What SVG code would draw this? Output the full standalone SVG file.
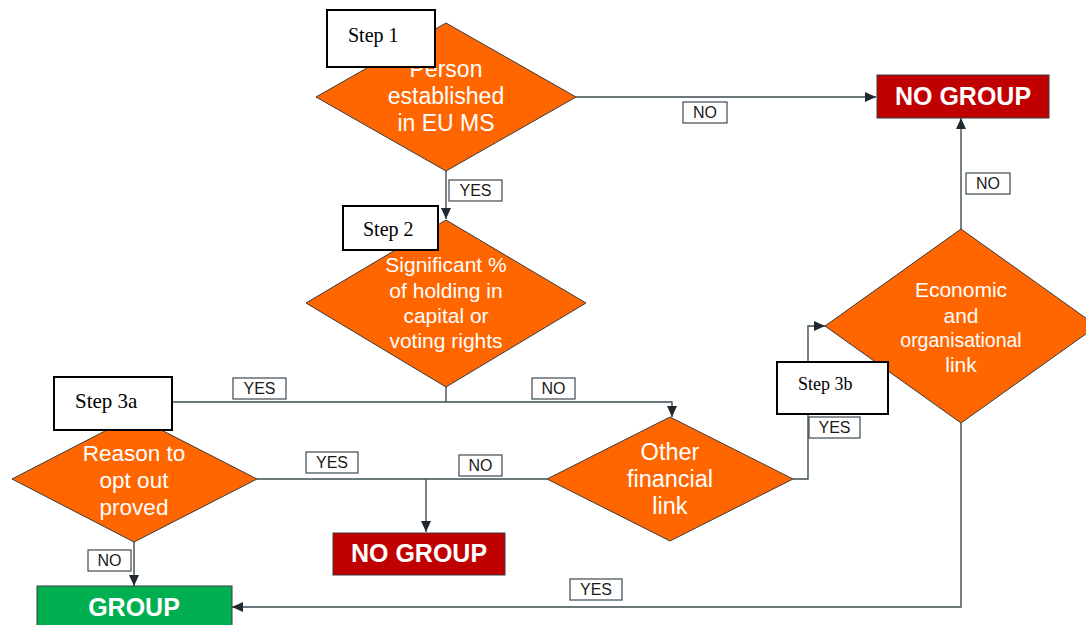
<svg xmlns="http://www.w3.org/2000/svg" width="1086" height="625" viewBox="0 0 1086 625">
<defs>
<marker id="arr" markerUnits="userSpaceOnUse" markerWidth="11" markerHeight="10" refX="11" refY="5" orient="auto">
<path d="M0,0 L11,5 L0,10 Z" fill="#1f2b30"/>
</marker>
<style>
.dia{fill:#FF6600;stroke:#3a3a3a;stroke-width:1}
.dt{font-family:"Liberation Sans",Arial,sans-serif;font-size:21px;fill:#ffffff;text-anchor:middle}
.step{fill:#ffffff;stroke:#000000;stroke-width:2}
.st{font-family:"Liberation Serif","Times New Roman",serif;font-size:20px;fill:#000000}
.lbl{fill:#ffffff;stroke:#3e4a50;stroke-width:1.2}
.lt{font-family:"Liberation Sans",Arial,sans-serif;font-size:16px;fill:#1a1a1a;text-anchor:middle}
.res{font-family:"Liberation Sans",Arial,sans-serif;font-size:25px;font-weight:bold;fill:#ffffff;text-anchor:middle}
.con{fill:none;stroke:#3d4b52;stroke-width:1.4}
</style>
</defs>
<rect width="1086" height="625" fill="#ffffff"/>

<g id="connectors">
<path class="con" d="M576,97 H876" marker-end="url(#arr)"/>
<path class="con" d="M446,171 V219" marker-end="url(#arr)"/>
<path class="con" d="M446,387 V402"/>
<path class="con" d="M172,402 H672 V417" marker-end="url(#arr)"/>
<path class="con" d="M257,479 H547"/>
<path class="con" d="M426,479 V532" marker-end="url(#arr)"/>
<path class="con" d="M793,479 H808 V326 H825" marker-end="url(#arr)"/>
<path class="con" d="M961,229 V118" marker-end="url(#arr)"/>
<path class="con" d="M961,423 V607 H232" marker-end="url(#arr)"/>
<path class="con" d="M134,542 V586" marker-end="url(#arr)"/>
</g>

<g id="edge-labels">
<rect class="lbl" x="683" y="102" width="44" height="21"/><text class="lt" x="705" y="118">NO</text>
<rect class="lbl" x="449" y="180" width="53" height="21"/><text class="lt" x="475.5" y="196">YES</text>
<rect class="lbl" x="966" y="173" width="44" height="21"/><text class="lt" x="988" y="189">NO</text>
<rect class="lbl" x="233" y="378" width="53" height="21"/><text class="lt" x="259.5" y="394">YES</text>
<rect class="lbl" x="532" y="378" width="43" height="21"/><text class="lt" x="553.5" y="394">NO</text>
<rect class="lbl" x="306" y="452" width="52" height="21"/><text class="lt" x="332" y="468">YES</text>
<rect class="lbl" x="459" y="455" width="43" height="21"/><text class="lt" x="480.5" y="471">NO</text>
<rect class="lbl" x="809" y="417" width="51" height="21"/><text class="lt" x="834.5" y="433">YES</text>
<rect class="lbl" x="88" y="550" width="43" height="21"/><text class="lt" x="109.5" y="566">NO</text>
<rect class="lbl" x="570" y="579" width="52" height="21"/><text class="lt" x="596" y="595">YES</text>
</g>

<g id="node-step1-decision">
<path class="dia" d="M446,23 L576,97 L446,171 L316,97 Z"/>
<text class="dt" x="446" y="77" style="font-size:23px">Person</text>
<text class="dt" x="446" y="104" style="font-size:23px">established</text>
<text class="dt" x="446" y="131" style="font-size:23px">in EU MS</text>
</g>
<g id="node-step1-label">
<rect class="step" x="327" y="10" width="108" height="57"/>
<text class="st" x="348" y="42">Step 1</text>
</g>

<g id="node-nogroup-top">
<rect x="877" y="75" width="172" height="43" fill="#C00000" stroke="#3a3a3a" stroke-width="1"/>
<text class="res" x="963" y="105">NO GROUP</text>
</g>

<g id="node-step2-decision">
<path class="dia" d="M446,220 L586,303 L446,387 L306,303 Z"/>
<text class="dt" x="446" y="272">Significant %</text>
<text class="dt" x="446" y="298">of holding in</text>
<text class="dt" x="446" y="323">capital or</text>
<text class="dt" x="446" y="348">voting rights</text>
</g>
<g id="node-step2-label">
<rect class="step" x="343" y="206" width="95" height="44"/>
<text class="st" x="363" y="236">Step 2</text>
</g>

<g id="node-step3a-decision">
<path class="dia" d="M134,416 L257,479 L134,542 L12,479 Z"/>
<text class="dt" x="134" y="461" style="font-size:22.5px">Reason to</text>
<text class="dt" x="134" y="488" style="font-size:22.5px">opt out</text>
<text class="dt" x="134" y="515" style="font-size:22.5px">proved</text>
</g>
<g id="node-step3a-label">
<rect class="step" x="54" y="377" width="118" height="53"/>
<text class="st" x="75" y="408" style="font-size:21px">Step 3a</text>
</g>

<g id="node-other-financial">
<path class="dia" d="M670,417 L793,479 L670,541 L547,479 Z"/>
<text class="dt" x="670" y="460" style="font-size:23.5px">Other</text>
<text class="dt" x="670" y="487" style="font-size:23.5px">financial</text>
<text class="dt" x="670" y="514" style="font-size:23.5px">link</text>
</g>

<g id="node-nogroup-bottom">
<rect x="333" y="533" width="172" height="42" fill="#C00000" stroke="#3a3a3a" stroke-width="1"/>
<text class="res" x="419" y="562">NO GROUP</text>
</g>

<g id="node-economic">
<path class="dia" d="M961,229 L1097,326 L961,423 L825,326 Z"/>
<text class="dt" x="961" y="297">Economic</text>
<text class="dt" x="961" y="323">and</text>
<text class="dt" x="961" y="347" style="font-size:19.5px">organisational</text>
<text class="dt" x="961" y="372">link</text>
</g>
<g id="node-step3b-label">
<rect class="step" x="777" y="362" width="111" height="52"/>
<text class="st" x="798" y="390" style="font-size:18px">Step 3b</text>
</g>

<g id="node-group">
<rect x="37" y="586" width="195" height="45" fill="#00B050" stroke="#3a3a3a" stroke-width="1"/>
<text class="res" x="134" y="616">GROUP</text>
</g>
</svg>
